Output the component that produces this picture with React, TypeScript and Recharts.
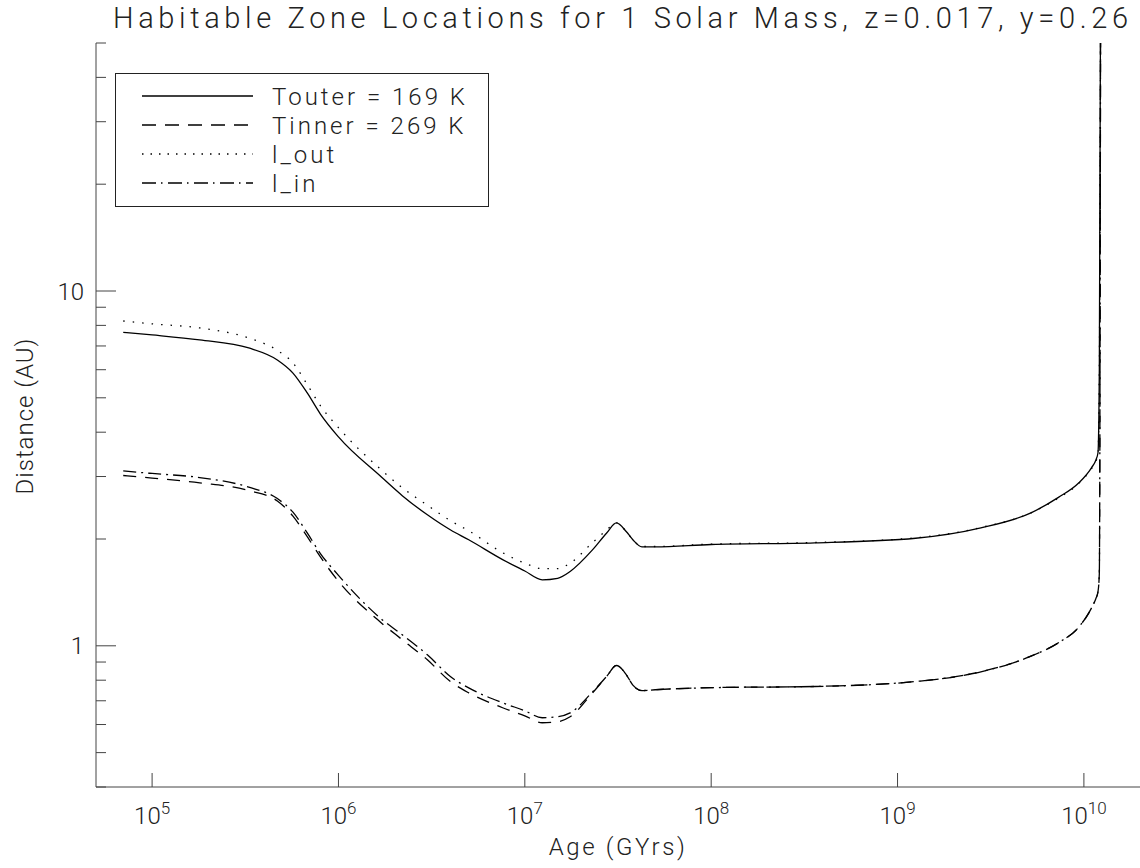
import React from 'react'
import { LineChart, Line, XAxis, YAxis, Legend } from 'recharts'

// ages in years, distances in AU
const ages = [7e4, 1e5, 1.8e5, 3.3e5, 4.7e5, 5.7e5, 6.8e5, 8e5, 1e6, 1.7e6, 2.2e6, 3e6, 4e6, 5e6, 7.6e6, 1e7, 1.24e7, 1.5e7, 1.75e7, 2.3e7, 2.75e7, 3.1e7, 3.5e7, 3.8e7, 4.25e7, 5e7, 1e8, 3.6e8, 1.25e9, 2.8e9, 5.2e9, 7.3e9, 9.4e9, 1.1e10, 1.16e10, 1.19e10, 1.21e10, 1.23e10]
const tOuter = [7.65, 7.52, 7.28, 6.91, 6.39, 5.87, 5.16, 4.5, 3.88, 2.99, 2.65, 2.34, 2.12, 1.99, 1.75, 1.625, 1.535, 1.55, 1.62, 1.86, 2.08, 2.22, 2.1, 1.99, 1.9, 1.9, 1.93, 1.95, 2.01, 2.15, 2.37, 2.62, 2.88, 3.18, 3.34, 3.5, 6, 80]
const tInner = [3.02, 2.97, 2.88, 2.74, 2.56, 2.32, 2.03, 1.78, 1.52, 1.16, 1.04, 0.913, 0.792, 0.737, 0.669, 0.635, 0.607, 0.611, 0.631, 0.735, 0.82, 0.88, 0.83, 0.775, 0.748, 0.752, 0.762, 0.768, 0.793, 0.845, 0.935, 1.02, 1.13, 1.28, 1.36, 1.42, 1.6, 80]
const lOut = [8.23, 8.08, 7.87, 7.37, 6.8, 6.27, 5.45, 4.75, 4.12, 3.13, 2.79, 2.49, 2.25, 2.11, 1.83, 1.71, 1.65, 1.65, 1.71, 1.95, 2.12, 2.22, 2.1, 1.99, 1.905, 1.905, 1.935, 1.955, 2.015, 2.155, 2.37, 2.61, 2.87, 3.16, 3.31, 3.47, 6, 80]
const lIn = [3.11, 3.06, 2.98, 2.8, 2.6, 2.38, 2.08, 1.82, 1.58, 1.19, 1.074, 0.943, 0.818, 0.761, 0.691, 0.656, 0.627, 0.631, 0.647, 0.74, 0.82, 0.88, 0.83, 0.775, 0.748, 0.752, 0.762, 0.768, 0.793, 0.845, 0.935, 1.02, 1.13, 1.28, 1.36, 1.42, 1.6, 80]

const seriesKeys = ['tOuter', 'tInner', 'lOut', 'lIn']
const seriesNames = ['Touter = 169 K', 'Tinner = 269 K', 'l_out', 'l_in']

const xTickExps = [5, 6, 7, 8, 9, 10]
const xTicks = xTickExps.map((e) => Math.pow(10, e))
const yMajor = [1, 10]
const yTicks = [0.4, 0.5, 0.6, 0.7, 0.8, 0.9, 1, 2, 3, 4, 5, 6, 7, 8, 9, 10, 20, 30, 40, 50]

const data = ages.map((age, i) => ({
  age,
  tOuter: tOuter[i],
  tInner: tInner[i],
  lOut: lOut[i],
  lIn: lIn[i],
}))

const FONT = 'Roboto, "DejaVu Sans", sans-serif'
const INK = '#222'
const AXIS = '#444'

const dashes: Record<string, string | undefined> = {
  tOuter: undefined,
  tInner: '13 9',
  lOut: '1.5 8',
  lIn: '13 5 2 5',
}
const legendDashes: Record<string, string | undefined> = {
  tOuter: undefined,
  tInner: '14 9',
  lOut: '1.5 7',
  lIn: '14 5 1.5 5.5',
}

const BottomTick = ({ x, y, payload }: any) => {
  const exp = Math.round(Math.log10(payload.value))
  return (
    <g>
      <line x1={x} x2={x} y1={y} y2={y - 14} stroke={AXIS} />
      <text x={x} y={y + 37} textAnchor="middle" fontFamily={FONT} fontWeight={300} fontSize={24} fill={INK}>
        10<tspan dy={-10} fontSize={17}>{exp}</tspan>
      </text>
    </g>
  )
}

const TopTick = ({ x, y }: any) => <line x1={x} x2={x} y1={y} y2={y + 14} stroke={AXIS} />

const LeftTick = ({ x, y, payload }: any) => {
  const major = yMajor.includes(payload.value)
  return (
    <g>
      <line x1={x} x2={x + (major ? 20 : 10)} y1={y} y2={y} stroke={AXIS} />
      {major && (
        <text x={x - 12} y={y + 8.5} textAnchor="end" fontFamily={FONT} fontWeight={300} fontSize={24} fill={INK}>
          {payload.value}
        </text>
      )}
    </g>
  )
}

const RightTick = ({ x, y, payload }: any) => {
  const major = yMajor.includes(payload.value)
  return <line x1={x} x2={x - (major ? 20 : 10)} y1={y} y2={y} stroke={AXIS} />
}

const renderLegend = () => (
  <svg width={374} height={134} style={{ display: 'block' }}>
    <rect x={0.5} y={0.5} width={373} height={133} fill="#fff" stroke={INK} />
    {seriesKeys.map((k, i) => {
      const cy = 23 + i * 29
      return (
        <g key={k}>
          <line x1={27} x2={138} y1={cy} y2={cy} stroke="#000" strokeWidth={1.3} strokeDasharray={legendDashes[k]} />
          <text x={157} y={cy + 9} fontFamily={FONT} fontWeight={300} fontSize={24} fill={INK} letterSpacing={3}>
            {seriesNames[i]}
          </text>
        </g>
      )
    })}
  </svg>
)

const YLabel = ({ viewBox }: any) => {
  const cx = 33
  const cy = viewBox.y + viewBox.height / 2 + 1
  return (
    <text x={cx} y={cy} transform={`rotate(-90 ${cx} ${cy})`} textAnchor="middle" fontFamily={FONT} fontWeight={300} fontSize={24} fill={INK} letterSpacing={1}>
      Distance (AU)
    </text>
  )
}

const XLabel = ({ viewBox }: any) => (
  <text x={viewBox.x + viewBox.width / 2} y={855} textAnchor="middle" fontFamily={FONT} fontWeight={300} fontSize={24} fill={INK} letterSpacing={2.6}>
    Age (GYrs)
  </text>
)

export default function App() {
  return (
    <div style={{ position: 'absolute', left: 0, top: 0, width: 1140, height: 868, background: '#fff' }}>
      <svg width={1140} height={40} style={{ position: 'absolute', left: 0, top: 0 }}>
        <text x={113} y={28} textLength={1015} lengthAdjust="spacing" fontFamily={FONT} fontWeight={300} fontSize={29} fill={INK}>
          Habitable Zone Locations for 1 Solar Mass, z=0.017, y=0.26
        </text>
      </svg>
      <LineChart width={1140} height={868} data={data} margin={{ top: 43, right: 0, bottom: 0, left: 0 }}>
        <XAxis
          xAxisId="b"
          dataKey="age"
          type="number"
          scale="log"
          domain={[5e4, 2e10]}
          allowDataOverflow
          ticks={xTicks}
          interval={0}
          height={81}
          tickSize={0}
          tickMargin={0}
          tickLine={false}
          axisLine={{ stroke: AXIS }}
          tick={<BottomTick />}
          label={<XLabel />}
        />
        <XAxis
          xAxisId="t"
          orientation="top"
          dataKey="age"
          type="number"
          scale="log"
          domain={[5e4, 2e10]}
          allowDataOverflow
          ticks={xTicks}
          interval={0}
          height={0}
          tickSize={0}
          tickMargin={0}
          tickLine={false}
          axisLine={{ stroke: AXIS }}
          tick={<TopTick />}
        />
        <YAxis
          yAxisId="l"
          type="number"
          scale="log"
          domain={[0.4, 50]}
          allowDataOverflow
          ticks={yTicks}
          interval={0}
          width={96}
          tickSize={0}
          tickMargin={0}
          tickLine={false}
          axisLine={{ stroke: AXIS }}
          tick={<LeftTick />}
          label={<YLabel />}
        />
        <YAxis
          yAxisId="r"
          orientation="right"
          type="number"
          scale="log"
          domain={[0.4, 50]}
          allowDataOverflow
          ticks={yTicks}
          interval={0}
          width={0}
          tickSize={0}
          tickMargin={0}
          tickLine={false}
          axisLine={false}
          tick={<RightTick />}
        />
        <Legend
          layout="vertical"
          align="center"
          verticalAlign="middle"
          content={renderLegend}
          wrapperStyle={{ left: 115, top: 73, width: 374, height: 134 }}
        />
        {seriesKeys.map((k, i) => (
          <Line
            key={k}
            xAxisId="b"
            yAxisId="l"
            dataKey={k}
            name={seriesNames[i]}
            type="monotone"
            stroke="#000"
            strokeWidth={1.3}
            strokeDasharray={dashes[k]}
            dot={false}
            activeDot={false}
            isAnimationActive={false}
          />
        ))}
      </LineChart>
    </div>
  )
}
